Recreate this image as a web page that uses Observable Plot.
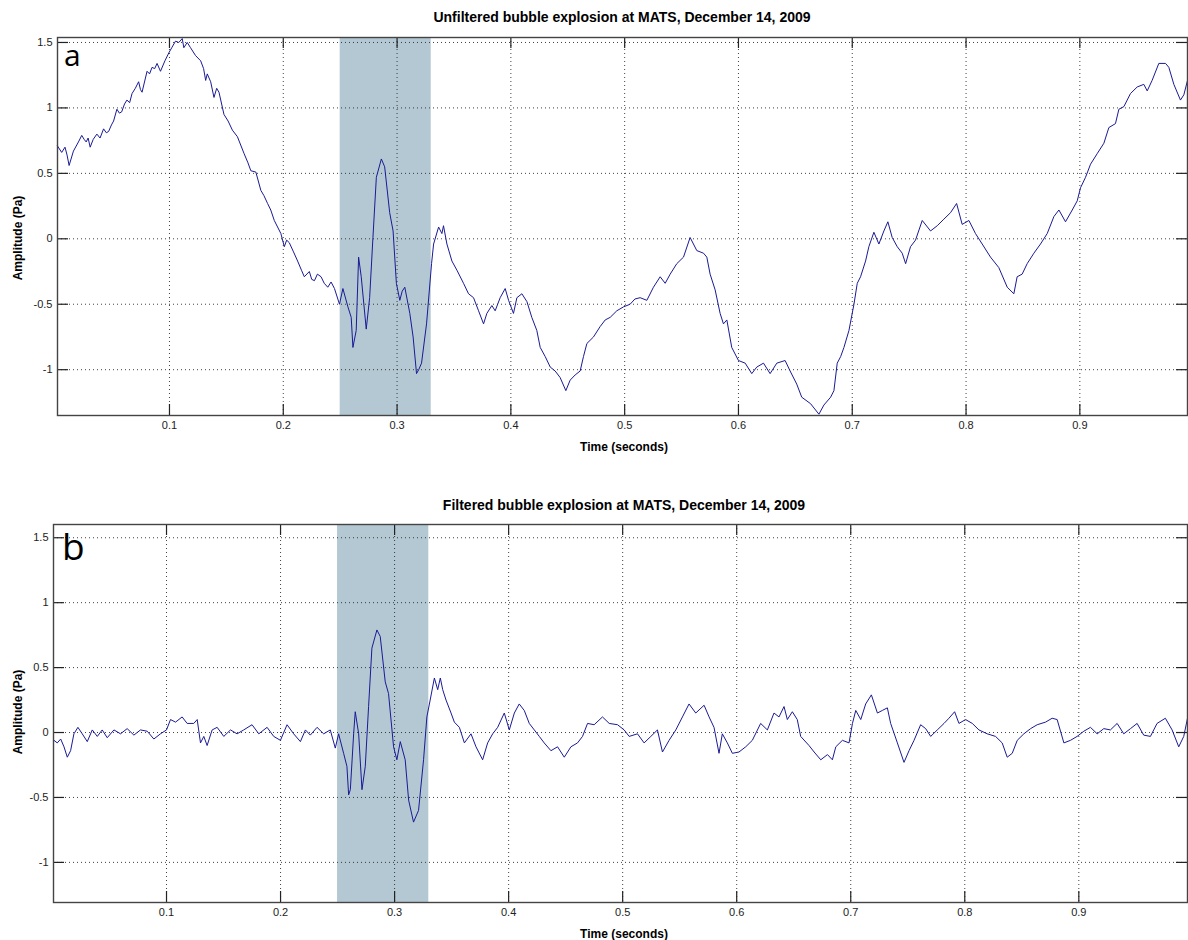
<!DOCTYPE html>
<html><head><meta charset="utf-8">
<script src="https://cdn.jsdelivr.net/npm/d3@7"></script>
<script src="https://cdn.jsdelivr.net/npm/@observablehq/plot@0.6"></script>
<style>
body{margin:0;background:#fff;}
#wrap{position:relative;width:1188px;height:940px;overflow:hidden;font-family:"Liberation Sans",Arial,sans-serif;}
.lbl{position:absolute;font-weight:bold;white-space:nowrap;color:#000;transform:translate(-50%,-50%);}
.ylbl{position:absolute;font-weight:bold;white-space:nowrap;color:#000;transform:translate(-50%,-50%) rotate(-90deg);font-size:12px;}
.letter{position:absolute;font-family:"Open Sans",sans-serif;color:#000;line-height:1;}
.panel{position:absolute;left:0;}
</style></head><body><div id="wrap"></div>
<script>
// ---- data ----
const titles = ["Unfiltered bubble explosion at MATS, December 14, 2009", "Filtered bubble explosion at MATS, December 14, 2009"];
const panelLetters = ["a", "b"];
const xLabel = "Time (seconds)";
const yLabel = "Amplitude (Pa)";
const xTicks = [0.1, 0.2, 0.3, 0.4, 0.5, 0.6, 0.7, 0.8, 0.9];
const yTicks = [-1, -0.5, 0, 0.5, 1, 1.5];
const highlight = [0.25, 0.33];

const timeA = [0.0015,0.0053,0.0082,0.0100,0.0118,0.0156,0.0200,0.0229,0.0250,0.0268,0.0285,0.0303,0.0330,0.0362,0.0390,0.0421,0.0445,0.0465,0.0490,0.0509,0.0538,0.0560,0.0580,0.0605,0.0626,0.0650,0.0671,0.0700,0.0729,0.0745,0.0759,0.0803,0.0825,0.0847,0.0870,0.0891,0.0921,0.0960,0.0994,0.1020,0.1053,0.1082,0.1112,0.1126,0.1156,0.1185,0.1229,0.1274,0.1300,0.1318,0.1332,0.1362,0.1391,0.1415,0.1435,0.1479,0.1515,0.1553,0.1597,0.1656,0.1690,0.1715,0.1759,0.1803,0.1830,0.1862,0.1890,0.1921,0.1979,0.2009,0.2030,0.2053,0.2090,0.2126,0.2160,0.2185,0.2229,0.2250,0.2274,0.2300,0.2332,0.2360,0.2391,0.2420,0.2450,0.2494,0.2524,0.2568,0.2597,0.2612,0.2641,0.2662,0.2685,0.2729,0.2759,0.2788,0.2818,0.2862,0.2891,0.2935,0.2965,0.2994,0.3024,0.3045,0.3068,0.3112,0.3141,0.3171,0.3190,0.3215,0.3259,0.3303,0.3321,0.3365,0.3394,0.3408,0.3438,0.3482,0.3526,0.3584,0.3628,0.3672,0.3716,0.3760,0.3789,0.3833,0.3862,0.3906,0.3950,0.3980,0.4023,0.4053,0.4097,0.4141,0.4184,0.4228,0.4258,0.4302,0.4346,0.4389,0.4433,0.4483,0.4521,0.4565,0.4609,0.4638,0.4668,0.4726,0.4785,0.4829,0.4873,0.4931,0.4990,0.5048,0.5090,0.5136,0.5195,0.5253,0.5312,0.5356,0.5400,0.5458,0.5517,0.5575,0.5634,0.5693,0.5722,0.5751,0.5795,0.5839,0.5868,0.5898,0.5941,0.6000,0.6059,0.6117,0.6161,0.6220,0.6278,0.6337,0.6410,0.6454,0.6512,0.6556,0.6634,0.6707,0.6751,0.6810,0.6839,0.6868,0.6898,0.6927,0.6971,0.7015,0.7044,0.7073,0.7117,0.7146,0.7190,0.7234,0.7278,0.7313,0.7351,0.7395,0.7439,0.7469,0.7512,0.7556,0.7615,0.7688,0.7747,0.7805,0.7864,0.7917,0.7966,0.8025,0.8083,0.8142,0.8215,0.8288,0.8362,0.8420,0.8449,0.8493,0.8537,0.8596,0.8654,0.8713,0.8772,0.8816,0.8874,0.8933,0.8977,0.9006,0.9050,0.9094,0.9152,0.9211,0.9255,0.9313,0.9343,0.9387,0.9445,0.9504,0.9562,0.9592,0.9635,0.9694,0.9753,0.9782,0.9826,0.9884,0.9914,0.9946];
const ampA = [0.71,0.66,0.70,0.64,0.56,0.67,0.74,0.79,0.76,0.74,0.77,0.70,0.76,0.80,0.77,0.84,0.81,0.82,0.87,0.90,0.99,0.96,0.97,1.03,1.06,1.04,1.11,1.15,1.20,1.14,1.12,1.28,1.26,1.31,1.30,1.34,1.28,1.36,1.42,1.46,1.51,1.50,1.53,1.46,1.50,1.46,1.40,1.36,1.30,1.21,1.26,1.20,1.08,1.15,1.12,0.95,0.90,0.83,0.78,0.65,0.58,0.52,0.51,0.37,0.33,0.27,0.22,0.14,0.04,-0.06,-0.01,-0.03,-0.10,-0.17,-0.24,-0.29,-0.25,-0.31,-0.32,-0.27,-0.29,-0.34,-0.37,-0.33,-0.38,-0.50,-0.38,-0.52,-0.60,-0.83,-0.70,-0.14,-0.29,-0.69,-0.45,0.01,0.47,0.61,0.55,0.20,0.06,-0.34,-0.47,-0.40,-0.37,-0.57,-0.75,-1.03,-1.00,-0.95,-0.65,-0.19,-0.04,0.09,0.04,0.10,-0.04,-0.17,-0.24,-0.34,-0.42,-0.45,-0.55,-0.65,-0.57,-0.51,-0.55,-0.45,-0.38,-0.47,-0.57,-0.45,-0.42,-0.48,-0.60,-0.70,-0.83,-0.90,-0.98,-1.01,-1.06,-1.16,-1.08,-1.04,-1.01,-0.90,-0.80,-0.75,-0.67,-0.62,-0.60,-0.55,-0.52,-0.50,-0.46,-0.45,-0.47,-0.37,-0.29,-0.34,-0.27,-0.19,-0.14,0.01,-0.09,-0.11,-0.14,-0.27,-0.39,-0.57,-0.65,-0.62,-0.83,-0.93,-0.95,-1.03,-0.98,-0.95,-1.03,-0.95,-0.93,-1.01,-1.11,-1.21,-1.26,-1.34,-1.27,-1.21,-1.16,-0.95,-0.90,-0.83,-0.70,-0.50,-0.34,-0.29,-0.17,-0.06,0.05,-0.04,0.06,0.13,0.01,-0.06,-0.11,-0.19,-0.06,-0.01,0.14,0.06,0.10,0.15,0.20,0.27,0.11,0.14,0.04,-0.04,-0.14,-0.22,-0.37,-0.42,-0.29,-0.27,-0.19,-0.11,-0.04,0.04,0.17,0.22,0.13,0.22,0.29,0.39,0.47,0.57,0.65,0.73,0.85,0.88,0.99,1.01,1.11,1.16,1.18,1.13,1.21,1.34,1.34,1.31,1.18,1.06,1.10,1.21];

const timeB = [0.0013,0.0042,0.0072,0.0101,0.0130,0.0159,0.0188,0.0223,0.0261,0.0305,0.0349,0.0393,0.0436,0.0480,0.0539,0.0597,0.0655,0.0714,0.0772,0.0831,0.0889,0.0947,0.1000,0.1035,0.1079,0.1137,0.1181,0.1239,0.1269,0.1298,0.1327,0.1356,0.1400,0.1444,0.1502,0.1561,0.1619,0.1677,0.1750,0.1809,0.1882,0.1940,0.1999,0.2057,0.2115,0.2174,0.2218,0.2261,0.2320,0.2378,0.2436,0.2480,0.2509,0.2553,0.2582,0.2597,0.2612,0.2641,0.2655,0.2685,0.2714,0.2743,0.2772,0.2801,0.2845,0.2874,0.2918,0.2947,0.2991,0.3020,0.3050,0.3093,0.3123,0.3166,0.3210,0.3254,0.3283,0.3312,0.3349,0.3378,0.3401,0.3422,0.3451,0.3495,0.3524,0.3568,0.3612,0.3670,0.3714,0.3772,0.3816,0.3860,0.3904,0.3962,0.4006,0.4050,0.4093,0.4137,0.4181,0.4225,0.4269,0.4312,0.4371,0.4429,0.4488,0.4546,0.4604,0.4648,0.4692,0.4750,0.4823,0.4882,0.4955,0.5013,0.5057,0.5130,0.5188,0.5247,0.5305,0.5349,0.5407,0.5466,0.5524,0.5582,0.5641,0.5714,0.5758,0.5801,0.5845,0.5874,0.5918,0.5962,0.6020,0.6079,0.6137,0.6210,0.6269,0.6327,0.6371,0.6415,0.6444,0.6488,0.6531,0.6561,0.6634,0.6679,0.6737,0.6796,0.6839,0.6869,0.6927,0.6985,0.7015,0.7044,0.7088,0.7131,0.7181,0.7234,0.7277,0.7321,0.7350,0.7409,0.7467,0.7511,0.7555,0.7613,0.7657,0.7701,0.7759,0.7818,0.7861,0.7911,0.7949,0.8007,0.8066,0.8124,0.8197,0.8270,0.8328,0.8372,0.8416,0.8460,0.8518,0.8577,0.8635,0.8708,0.8766,0.8810,0.8869,0.8927,0.8985,0.9044,0.9102,0.9161,0.9219,0.9277,0.9336,0.9394,0.9453,0.9511,0.9569,0.9628,0.9686,0.9759,0.9818,0.9876,0.9920,0.9953];
const ampB = [-0.06,-0.08,-0.05,-0.11,-0.19,-0.14,-0.01,0.04,-0.01,-0.07,0.02,-0.03,0.02,-0.04,0.02,-0.01,0.03,-0.02,0.02,0.01,-0.05,-0.01,0.02,0.10,0.08,0.12,0.07,0.07,0.10,-0.08,-0.03,-0.10,0.02,0.04,-0.03,0.02,-0.01,0.02,0.06,-0.01,0.04,-0.03,-0.06,0.06,-0.01,-0.07,0.02,-0.02,0.04,-0.01,0.02,-0.12,-0.01,-0.16,-0.26,-0.48,-0.44,-0.01,0.16,-0.01,-0.44,-0.26,0.20,0.65,0.79,0.74,0.39,0.30,-0.11,-0.21,-0.07,-0.21,-0.52,-0.69,-0.60,-0.21,0.12,0.25,0.42,0.33,0.42,0.33,0.25,0.15,0.08,0.04,-0.08,-0.01,-0.11,-0.21,-0.08,-0.01,0.04,0.15,0.02,0.15,0.22,0.17,0.07,0.02,-0.03,-0.08,-0.14,-0.11,-0.19,-0.11,-0.08,-0.03,0.07,0.06,0.12,0.07,0.06,0.02,-0.03,-0.01,-0.08,-0.03,0.02,-0.15,-0.06,0.02,0.12,0.22,0.15,0.21,0.12,0.04,-0.16,-0.01,-0.08,-0.16,-0.15,-0.11,-0.06,0.07,0.02,0.15,0.12,0.20,0.10,0.16,0.10,-0.03,-0.10,-0.15,-0.21,-0.17,-0.21,-0.11,-0.06,-0.08,0.07,0.17,0.10,0.22,0.29,0.15,0.17,0.19,0.07,-0.08,-0.23,-0.14,-0.06,0.06,0.03,-0.03,0.02,0.07,0.11,0.16,0.07,0.10,0.07,0.02,-0.01,-0.03,-0.08,-0.19,-0.16,-0.06,-0.01,0.03,0.06,0.08,0.11,0.10,-0.08,-0.06,-0.03,0.01,0.04,-0.01,0.03,0.02,0.07,-0.01,0.03,0.07,-0.02,-0.03,0.07,0.11,0.02,-0.11,-0.03,0.11];

// ---- layout ----
const wrap = document.getElementById("wrap");
const panels = [
  {time: timeA, amp: ampA, top: 0, height: 460, mt: 37, mb: 45, ml: 57, mr: 1,
   xDomain: [0.0016, 0.9946], yDomain: [-1.350, 1.538], pxPerX: 1137.9, pxPerY: 131.04,
   title: [622, 17], xlab: [624, 447], ylab: [18, 238], letter: [64, 40, 30]},
  {time: timeB, amp: ampB, top: 480, height: 460, mt: 44, mb: 38, ml: 53, mr: 1,
   xDomain: [0.0009, 0.9953], yDomain: [-1.309, 1.602], pxPerX: 1140.4, pxPerY: 129.76,
   title: [624, 505], xlab: [624, 934], ylab: [18, 712], letter: [62, 527, 37]}
];

panels.forEach((p, k) => {
  const rows = p.time.map((t, i) => ({t, a: p.amp[i]}));
  const tl = 11; // inward tick length (px)
  const dy = tl / p.pxPerY, dx = tl / p.pxPerX;
  const [y0, y1] = p.yDomain, [x0, x1] = p.xDomain;
  const chart = Plot.plot({
    width: 1188, height: p.height,
    marginTop: p.mt, marginBottom: p.mb, marginLeft: p.ml, marginRight: p.mr,
    style: {fontFamily: "'Liberation Sans', Arial, sans-serif", fontSize: "11px", color: "#222", background: "transparent"},
    x: {domain: p.xDomain, label: null},
    y: {domain: p.yDomain, label: null},
    marks: [
      Plot.rect([highlight], {x1: d => d[0], x2: d => d[1], fill: "#b3c8d2"}),
      Plot.gridX(xTicks, {stroke: "#222", strokeOpacity: 0.85, strokeDasharray: "1,3"}),
      Plot.gridY(yTicks, {stroke: "#222", strokeOpacity: 0.85, strokeDasharray: "1,3"}),
      Plot.line(rows, {x: "t", y: "a", stroke: "#1a1a96", strokeWidth: 1}),
      Plot.ruleX(xTicks, {x: d => d, y1: y0, y2: y0 + dy, stroke: "#222", strokeWidth: 1.2}),
      Plot.ruleX(xTicks, {x: d => d, y1: y1, y2: y1 - dy, stroke: "#222", strokeWidth: 1.2}),
      Plot.ruleY(yTicks, {y: d => d, x1: x0, x2: x0 + dx, stroke: "#222", strokeWidth: 1.2}),
      Plot.ruleY(yTicks, {y: d => d, x1: x1, x2: x1 - dx, stroke: "#222", strokeWidth: 1.2}),
      Plot.frame({stroke: "#444", strokeWidth: 1.4}),
      Plot.axisX(xTicks, {tickSize: 0, tickPadding: 6, fontSize: 11, label: null, tickFormat: d => String(d)}),
      Plot.axisY(yTicks, {tickSize: 0, tickPadding: 5, fontSize: 11, label: null, tickFormat: d => String(d)})
    ]
  });
  chart.classList.add("panel");
  chart.style.top = p.top + "px";
  wrap.appendChild(chart);

  const t = document.createElement("div");
  t.className = "lbl"; t.style.fontSize = "14px";
  t.style.left = p.title[0] + "px"; t.style.top = p.title[1] + "px";
  t.textContent = titles[k]; wrap.appendChild(t);

  const xl = document.createElement("div");
  xl.className = "lbl"; xl.style.fontSize = "12px";
  xl.style.left = p.xlab[0] + "px"; xl.style.top = p.xlab[1] + "px";
  xl.textContent = xLabel; wrap.appendChild(xl);

  const yl = document.createElement("div");
  yl.className = "ylbl";
  yl.style.left = p.ylab[0] + "px"; yl.style.top = p.ylab[1] + "px";
  yl.textContent = yLabel; wrap.appendChild(yl);

  const L = document.createElement("div");
  L.className = "letter";
  L.style.left = p.letter[0] + "px"; L.style.top = p.letter[1] + "px"; L.style.fontSize = p.letter[2] + "px";
  L.textContent = panelLetters[k]; wrap.appendChild(L);
});
</script>
</body></html>
